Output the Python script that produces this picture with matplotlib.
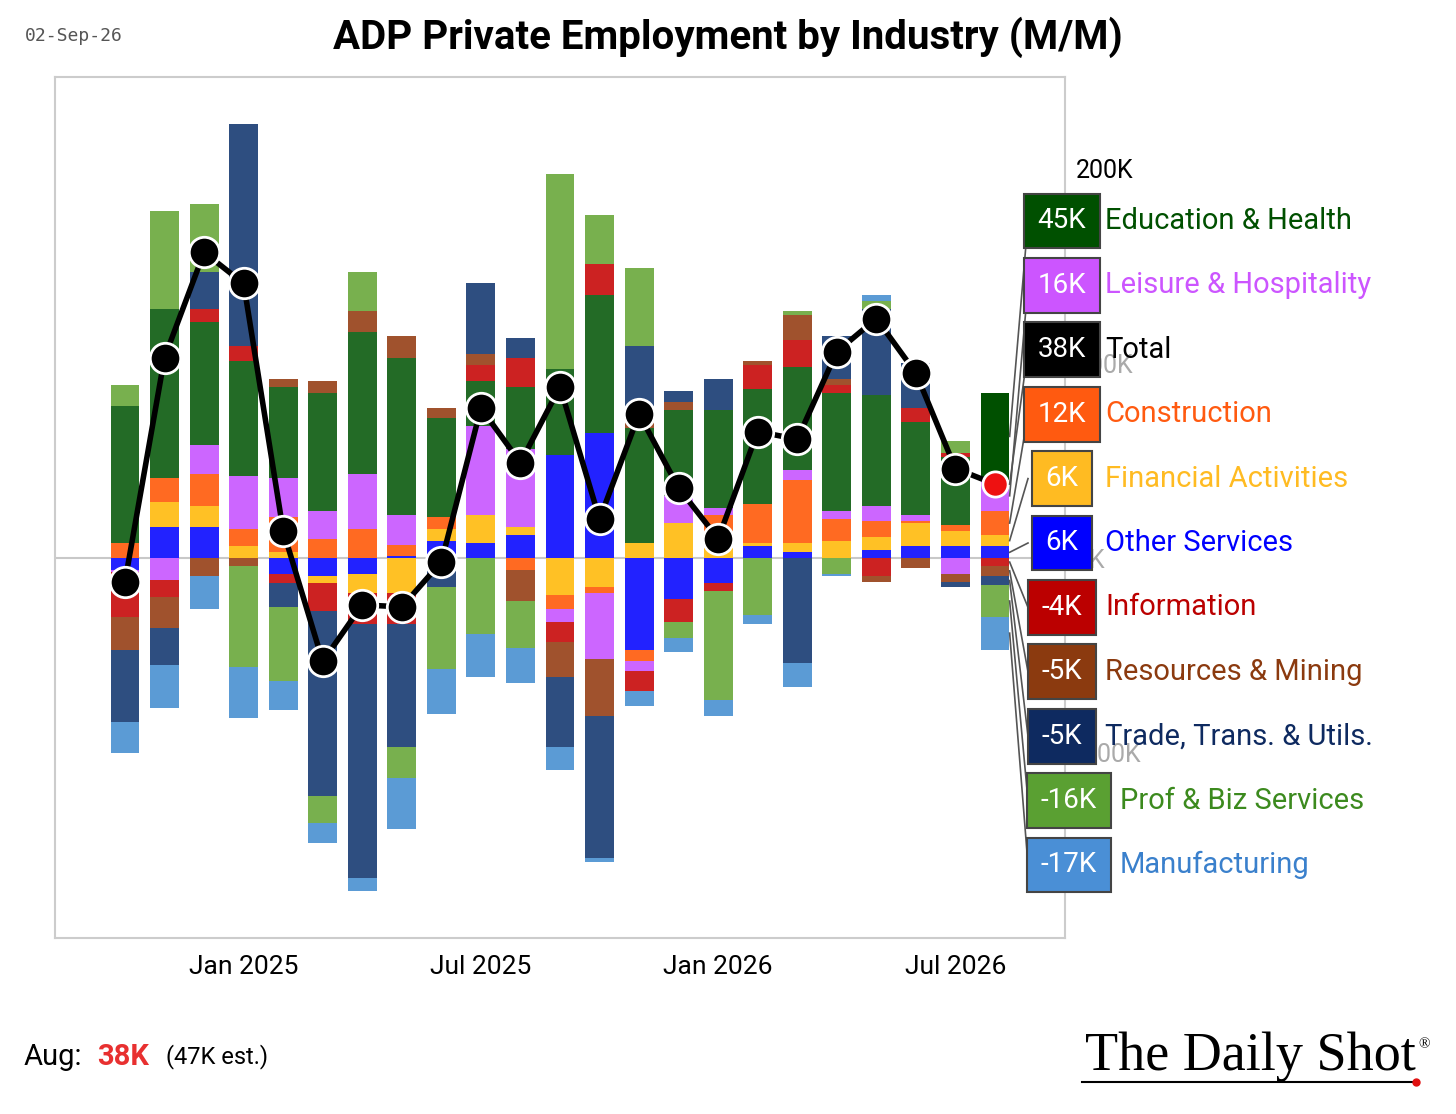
"""ADP private employment by industry, stacked monthly changes."""

import matplotlib.pyplot as plt
from matplotlib.lines import Line2D
import numpy as np

plt.rcParams["font.family"] = ["Roboto", "DejaVu Sans"]

W, H = 1456, 1114

months = ["Oct 2024", "Nov 2024", "Dec 2024", "Jan 2025", "Feb 2025", "Mar 2025",
          "Apr 2025", "May 2025", "Jun 2025", "Jul 2025", "Aug 2025", "Sep 2025",
          "Oct 2025", "Nov 2025", "Dec 2025", "Jan 2026", "Feb 2026", "Mar 2026",
          "Apr 2026", "May 2026", "Jun 2026", "Jul 2026", "Aug 2026"]

# values in thousands, stack order from zero outward
other_services = [-6, 16, 16, 0, -8, -9, -8, 1, 9, 8, 12, 53, 64, -47, -21, -13, 6, 3, 0, 4, 6, 6, 6]
financial = [0, 13, 11, 6, 3, -4, -10, -18, 6, 14, 4, -19, -15, 8, 18, 8, 2, 5, 9, 7, 12, 8, 6]
construction = [8, 12, 16, 9, 18, 10, 15, 6, 6, 0, -6, -7, -3, -6, 0, 14, 20, 32, 11, 8, 1, 3, 12]
leisure = [-1, -11, 15, 27, 20, 14, 28, 15, 0, 46, 40, -7, -34, -5, 14, 4, 0, 5, 4, 8, 3, -8, 16]
education = [70, 87, 63, 59, 47, 61, 73, 81, 51, 23, 32, 44, 71, 59, 44, 50, 59, 53, 61, 57, 48, 35, 45]
information = [-23, -9, 7, 8, -5, -14, -16, -16, 0, 8, 15, -10, 16, -10, -12, -4, 12, 14, 4, -9, 7, 2, -4]
resources = [-17, -16, -9, -4, 4, 6, 11, 11, 5, 6, -16, -18, -29, 4, 4, 0, 2, 13, 3, -3, -5, -4, -5]
trade = [-37, -19, 19, 114, -12, -95, -130, -63, -15, 36, 10, -36, -73, 38, 6, 16, 0, -54, 22, 44, 23, -3, -5]
prof_biz = [11, 50, 35, -52, -38, -14, 20, -16, -42, -39, -24, 100, 25, 40, -8, -56, -29, 2, -8, 4, 0, 6, -16]
manufacturing = [-16, -22, -17, -26, -15, -10, -7, -26, -23, -22, -18, -12, -2, -8, -7, -8, -5, -12, -1, 3, 0, 0, -17]
total = [-12, 103, 157, 141, 14, -53, -24, -25, -2, 77, 49, 88, 20, 74, 36, 10, 65, 61, 106, 123, 95, 46, 38]

tick_pos = [3, 9, 15, 21]
tick_labels = ["Jan 2025", "Jul 2025", "Jan 2026", "Jul 2026"]

series = [
    ("Other Services", other_services, "#2222ff"),
    ("Financial Activities", financial, "#ffc125"),
    ("Construction", construction, "#ff6a22"),
    ("Leisure & Hospitality", leisure, "#cc66ff"),
    ("Education & Health", education, "#236b26"),
    ("Information", information, "#cc2222"),
    ("Resources & Mining", resources, "#a0522d"),
    ("Trade, Trans. & Utils.", trade, "#2e4e80"),
    ("Prof & Biz Services", prof_biz, "#78b04e"),
    ("Manufacturing", manufacturing, "#5b9bd5"),
]

fig = plt.figure(figsize=(W / 100, H / 100), dpi=100)
ax = fig.add_axes([55 / W, 1 - 938 / H, (1065 - 55) / W, (938 - 77) / H])

x = np.arange(len(months))
pos_base = np.zeros(len(x))
neg_base = np.zeros(len(x))
last_mid = {}
ax.axhline(0, color="#c8c8c8", lw=1.5, zorder=1)
for name, vals, color in series:
    v = np.array(vals, dtype=float)
    bottom = np.where(v >= 0, pos_base, neg_base)
    colors = [color] * len(x)
    if name == "Education & Health":
        colors[-1] = "#005000"
    ax.bar(x, v, bottom=bottom, width=0.73, color=colors, zorder=2)
    last_mid[name] = bottom[-1] + v[-1] / 2
    pos_base = pos_base + np.where(v >= 0, v, 0)
    neg_base = neg_base + np.where(v < 0, v, 0)

ax.plot(x, total, color="black", lw=4, zorder=3)
ax.scatter(x[:-1], total[:-1], s=480, color="black", edgecolor="white", lw=2, zorder=4)
ax.scatter(x[-1:], total[-1:], s=330, color="#ee1111", edgecolor="white", lw=2, zorder=4)
last_mid["Total"] = total[-1]

ax.set_xlim(-1.77, 23.77)
ax.set_ylim(-195, 247)
ax.set_xticks(tick_pos)
ax.set_xticklabels(tick_labels, fontsize=19)
ax.tick_params(axis="x", length=0, pad=12)
ax.yaxis.tick_right()
ax.set_yticks([200, 100, 0, -100])
ax.set_yticklabels(["200K", "100K", "0K", "-100K"], fontsize=18)
for lbl in ax.get_yticklabels()[1:]:
    lbl.set_color("#aaaaaa")
ax.tick_params(axis="y", length=0, pad=8)
for sp in ax.spines.values():
    sp.set_color("#cccccc")
    sp.set_linewidth(1.5)

# right-hand value labels
legend_rows = [
    ("Education & Health", "45K", "#005000", "#005000"),
    ("Leisure & Hospitality", "16K", "#cc55ff", "#cc55ff"),
    ("Total", "38K", "black", "black"),
    ("Construction", "12K", "#ff5a10", "#ff5a10"),
    ("Financial Activities", "6K", "#ffbb22", "#ffbb22"),
    ("Other Services", "6K", "#0000ff", "#0000ff"),
    ("Information", "-4K", "#bb0000", "#bb0000"),
    ("Resources & Mining", "-5K", "#8b3a0f", "#8b3a0f"),
    ("Trade, Trans. & Utils.", "-5K", "#0e2a60", "#0e2a60"),
    ("Prof & Biz Services", "-16K", "#5aa032", "#3c8a1e"),
    ("Manufacturing", "-17K", "#4a8fd6", "#3a80cc"),
]
bar_right = ax.transData.transform((x[-1] + 0.37, 0))[0]
for i, (name, val, box_col, txt_col) in enumerate(legend_rows):
    yc = 221 + i * 64.4
    wide = len(val) > 3
    cx = 1069 if wide else 1062
    fig.text(cx / W, 1 - yc / H, val, ha="center", va="center", fontsize=20,
             color="white", zorder=6,
             bbox=dict(boxstyle="square,pad=0.5", fc=box_col, ec="#444444", lw=1.5))
    fig.text((1120 if wide else 1105) / W, 1 - yc / H, name, ha="left", va="center",
             fontsize=21, color=txt_col, zorder=6,
             bbox=dict(boxstyle="square,pad=0.05", fc="white", ec="none", alpha=0.0))
    y_src = ax.transData.transform((0, last_mid[name]))[1]
    fig.add_artist(Line2D([bar_right / W, 1028 / W], [y_src / H, 1 - yc / H],
                          color="#555555", lw=1.2, zorder=5))

fig.text(0.5, 1 - 37 / H, "ADP Private Employment by Industry (M/M)", ha="center",
         va="center", fontsize=29, fontweight="bold")
fig.text(25 / W, 1 - 36 / H, "02-Sep-26", ha="left", va="center", fontsize=13,
         color="#555555", family="DejaVu Sans Mono")
fig.text(24 / W, 1 - 1057 / H, "Aug:", ha="left", va="center", fontsize=21)
fig.text(97 / W, 1 - 1057 / H, "38K", ha="left", va="center", fontsize=21,
         color="#e83030", fontweight="bold")
fig.text(166 / W, 1 - 1057 / H, "(47K est.)", ha="left", va="center", fontsize=17)
fig.text(1250 / W, 1 - 1057 / H, "The Daily Shot", ha="center", va="center",
         fontsize=39, family="Liberation Serif")
fig.text(1424 / W, 1 - 1045 / H, "®", ha="center", va="center", fontsize=11,
         family="Liberation Serif")
fig.add_artist(Line2D([1082 / W, 1415 / W], [1 - 1082 / H, 1 - 1082 / H],
                      color="black", lw=1.5))
fig.add_artist(Line2D([1416 / W], [1 - 1082 / H], marker="o", ms=5, color="#e01010"))

fig.savefig("out.png", dpi=100)
